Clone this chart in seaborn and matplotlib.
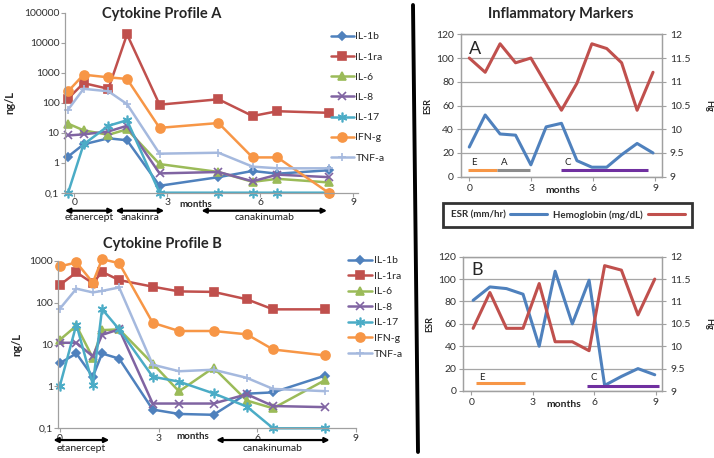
import matplotlib
matplotlib.use("Agg")
import matplotlib.pyplot as plt
import seaborn as sns
from matplotlib.lines import Line2D
from matplotlib.ticker import NullLocator

sns.set_theme(style="white")
plt.rcParams["font.family"] = ["Lato", "DejaVu Sans"]

# ---------------- data ----------------
series = ["IL-1b", "IL-1ra", "IL-6", "IL-8", "IL-17", "IFN-g", "TNF-a"]

# Cytokine profile A (x in months)
months_a = [-0.2, 0.3, 1.1, 1.7, 2.75, 4.65, 5.75, 6.55, 8.2]
il1b_a = [1.6, 4.1, 6.5, 5.6, 0.17, 0.33, 0.53, 0.43, 0.56]
il1ra_a = [137, 450, 290, 19000, 86, 130, 36, 52, 46]
il6_a = [20, 12, 8.5, 13, 0.9, 0.49, 0.23, 0.29, 0.22]
il8_a = [8.1, 8.8, 11, 17, 0.44, 0.49, 0.24, 0.40, 0.33]
il17_a = [0.1, 4.1, 17, 26, 0.1, 0.1, 0.1, 0.1, 0.1]
ifng_a = [240, 860, 700, 620, 14.5, 21, 1.5, 1.5, 0.1]
tnfa_a = [59, 290, 240, 90, 2.0, 2.15, 0.74, 0.65, 0.65]

# Cytokine profile B
months_b = [0.0, 0.5, 1.0, 1.28, 1.8, 2.82, 3.62, 4.67, 5.68, 6.48, 8.05]
il1b_b = [3.6, 6.1, 1.7, 6.1, 4.6, 0.28, 0.22, 0.21, 0.67, 0.72, 1.8]
il1ra_b = [265, 525, 290, 540, 345, 240, 185, 180, 120, 69, 69]
il6_b = [13, 28, 4.8, 22, 23, 3.5, 0.76, 2.8, 0.46, 0.30, 1.4]
il8_b = [11, 11, 5.2, 17, 23, 0.39, 0.39, 0.39, 0.65, 0.34, 0.32]
il17_b = [1.05, 30, 1.1, 70, 23, 1.7, 1.3, 0.68, 0.33, 0.1, 0.1]
ifng_b = [730, 910, 300, 1090, 870, 33, 21, 21, 17.5, 7.6, 5.5]
tnfa_b = [72, 215, 175, 190, 230, 3.3, 2.3, 2.5, 1.6, 0.87, 0.77]

# Inflammatory markers A
months_ia = [0, 0.77, 1.49, 2.24, 2.98, 3.72, 4.46, 5.21, 5.93, 6.65, 7.37, 8.12, 8.89]
esr_a = [25, 52, 36, 35, 10, 42, 45, 13.5, 8, 8, 18.5, 28, 20]
hb_a = [11.5, 11.2, 11.8, 11.4, 11.5, 10.95, 10.4, 10.97, 11.8, 11.7, 11.4, 10.4, 11.2]

# Inflammatory markers B
months_ib = [0.08, 0.9, 1.71, 2.52, 3.31, 4.09, 4.93, 5.75, 6.51, 7.33, 8.14, 8.96]
esr_b = [81, 93, 91.5, 86.5, 40, 107, 60, 99, 5, 13, 20, 14.5]
hb_b = [10.4, 11.2, 10.4, 10.4, 11.4, 10.1, 10.1, 9.9, 11.8, 11.7, 10.7, 11.5]

# Treatment periods (months)
treat_cyto_a = [("etanercept", -0.3, 1.27), ("anakinra", 1.33, 2.9), ("canakinumab", 4.1, 8.15)]
treat_cyto_b = [("etanercept", -0.2, 1.5), ("canakinumab", 4.75, 8.2)]
treat_infl_a = [("E", -0.08, 1.36), ("A", 1.36, 2.92), ("C", 4.46, 8.65)]
treat_infl_b = [("E", 0.24, 2.64), ("C", 5.66, 9.18)]

# ---------------- styles ----------------
colors = {"IL-1b": "#4F81BD", "IL-1ra": "#C0504D", "IL-6": "#9BBB59", "IL-8": "#8064A2",
          "IL-17": "#4BACC6", "IFN-g": "#F79646", "TNF-a": "#A5B9DE"}
markers = {"IL-1b": "D", "IL-1ra": "s", "IL-6": "^", "IL-8": "x",
           "IL-17": (6, 2, 0), "IFN-g": "o", "TNF-a": "+"}
msizes = {"IL-1b": 4.5, "IL-1ra": 6, "IL-6": 5.5, "IL-8": 5.5,
          "IL-17": 7, "IFN-g": 6.5, "TNF-a": 6}
treat_colors = {"E": "#F79646", "A": "#8C8C8C", "C": "#7030A0"}
spine_c = "#A0A0A0"
ESR_C = "#4F81BD"
HB_C = "#C0504D"

W, H = 714, 458
fig = plt.figure(figsize=(W / 100, H / 100), dpi=100)


def ax_px(l, t, r, b):
    return fig.add_axes([l / W, 1 - b / H, (r - l) / W, (b - t) / H])


def cyto_panel(ax, months, data, ylim, yticks, yticklabels, xlim):
    for name, vals in zip(series, data):
        c = colors[name]
        sns.lineplot(x=months, y=vals, ax=ax, color=c, marker=markers[name],
                     markersize=msizes[name], markeredgecolor=c, markerfacecolor=c,
                     markeredgewidth=1.2, linewidth=1.8, label=name, sort=False,
                     clip_on=False)
    ax.set_yscale("log")
    ax.set_ylim(*ylim)
    ax.set_xlim(*xlim)
    ax.set_yticks(yticks)
    ax.set_yticklabels(yticklabels)
    ax.yaxis.set_minor_locator(NullLocator())
    ax.set_xticks([0, 3, 6, 9])
    ax.set_xticklabels(["0", "3", "6", "9"])
    ax.tick_params(axis="both", labelsize=7.5, colors="#303030", length=3, width=0.8,
                   color=spine_c, left=True, bottom=True, pad=1)
    for s in ["top", "right"]:
        ax.spines[s].set_visible(False)
    for s in ["left", "bottom"]:
        ax.spines[s].set_color(spine_c)
        ax.spines[s].set_linewidth(0.9)
    ax.set_xlabel("")
    ax.set_ylabel("ng/L", fontsize=8, fontweight="bold", labelpad=4)
    h, l = ax.get_legend_handles_labels()
    ax.get_legend().remove()
    return h, l


def treat_arrows(ax, periods, y_arrow, y_text):
    tr = ax.get_xaxis_transform()
    for name, x0, x1 in periods:
        ax.annotate("", xy=(x0, y_arrow), xytext=(x1, y_arrow), xycoords=tr, textcoords=tr,
                    arrowprops=dict(arrowstyle="<|-|>", color="black", lw=1.6,
                                    mutation_scale=7, shrinkA=0, shrinkB=0),
                    annotation_clip=False)
        ax.text((x0 + x1) / 2, y_text, name, transform=tr, ha="center", va="center",
                fontsize=7.5, color="#202020")


# ---------------- Cytokine A ----------------
axA = ax_px(65, 12.7, 358, 192.7)
hA, lA = cyto_panel(axA, months_a, [il1b_a, il1ra_a, il6_a, il8_a, il17_a, ifng_a, tnfa_a],
                    (0.1, 100000), [0.1, 1, 10, 100, 1000, 10000, 100000],
                    ["0,1", "1", "10", "100", "1000", "10000", "100000"], (-0.3, 9.15))
axA.yaxis.set_label_coords(-0.168, 0.5)
axA.text(3.93, -0.065, "months", transform=axA.get_xaxis_transform(), ha="center",
         va="center", fontsize=7, fontweight="bold")
treat_arrows(axA, treat_cyto_a, -0.1, -0.137)
axA.text(0.33, 0.995, "Cytokine Profile A", transform=axA.transAxes, ha="center", va="center",
         fontsize=10.5, fontweight="bold")
fig.legend(hA, lA, loc="upper left", bbox_to_anchor=(331 / W, 1 - 32 / H), frameon=False,
           fontsize=7.5, labelspacing=1.05, handlelength=2.2, handletextpad=0.15,
           borderpad=0, borderaxespad=0)

# ---------------- Cytokine B ----------------
axB = ax_px(58.3, 260.7, 356, 428.3)
hB, lB = cyto_panel(axB, months_b, [il1b_b, il1ra_b, il6_b, il8_b, il17_b, ifng_b, tnfa_b],
                    (0.1, 1000), [0.1, 1, 10, 100, 1000],
                    ["0,1", "1", "10", "100", "1000"], (-0.05, 9.0))
axB.yaxis.set_label_coords(-0.122, 0.5)
axB.text(4.05, -0.05, "months", transform=axB.get_xaxis_transform(), ha="center",
         va="center", fontsize=7, fontweight="bold")
treat_arrows(axB, treat_cyto_b, -0.07, -0.12)
axB.text(0.35, 1.1, "Cytokine Profile B", transform=axB.transAxes, ha="center", va="center",
         fontsize=10.5, fontweight="bold")
fig.legend(hB, lB, loc="upper left", bbox_to_anchor=(348 / W, 1 - 256 / H), frameon=False,
           fontsize=7.5, labelspacing=0.6, handlelength=2.3, handletextpad=0.15,
           borderpad=0, borderaxespad=0)


# ---------------- Inflammatory markers ----------------
def infl_panel(ax, months, esr, hb, periods, label, treat_y, label_y):
    sns.lineplot(x=months, y=esr, ax=ax, color=ESR_C, linewidth=2.2, sort=False,
                 label="ESR (mm/hr)")
    ax.set_ylim(0, 120)
    ax.set_xlim(-0.4, 9.3)
    ax.set_yticks(range(0, 121, 20))
    ax.set_xticks([0, 3, 6, 9])
    ax.grid(axis="y", color="#A6A6A6", linewidth=0.9)
    ax.set_axisbelow(True)
    for s in ax.spines.values():
        s.set_color(spine_c)
        s.set_linewidth(0.9)
    ax.tick_params(axis="both", labelsize=7.5, colors="#303030", length=3, width=0.8,
                   color=spine_c, left=True, bottom=True, pad=2)
    ax.set_ylabel("ESR", fontsize=6.5, fontweight="bold", labelpad=3)
    ax.set_xlabel("")
    ax.text(4.5, -0.1, "months", transform=ax.get_xaxis_transform(), ha="center",
            va="center", fontsize=7.5, fontweight="bold")
    for name, x0, x1 in periods:
        ax.hlines(treat_y[name], x0, x1, color=treat_colors[name], linewidth=2.2)
        ax.text(x0 + 0.15, label_y, name, fontsize=7, ha="left", va="center",
                color="#202020")
    ax.text(0.04, 0.9, label, transform=ax.transAxes, fontsize=13, ha="left", va="center")
    ax2 = ax.twinx()
    sns.lineplot(x=months, y=hb, ax=ax2, color=HB_C, linewidth=2.2, sort=False,
                 label="Hemoglobin (mg/dL)")
    ax2.set_ylim(9, 12)
    ax2.set_yticks([9, 9.5, 10, 10.5, 11, 11.5, 12])
    ax2.set_yticklabels(["9", "9.5", "10", "10.5", "11", "11.5", "12"])
    ax2.tick_params(axis="y", labelsize=7.5, colors="#303030", length=3, width=0.8,
                    color=spine_c, right=True, pad=3)
    for s in ax2.spines.values():
        s.set_color(spine_c)
        s.set_linewidth(0.9)
    ax2.set_ylabel("Hg", fontsize=6.5, fontweight="bold", rotation=-90, labelpad=8)
    ax2.yaxis.set_label_coords(1.26, 0.5)
    h1, l1 = ax.get_legend_handles_labels()
    h2, l2 = ax2.get_legend_handles_labels()
    ax.get_legend().remove()
    ax2.get_legend().remove()
    return h1 + h2, l1 + l2


axIA = ax_px(461, 34.3, 661.5, 176.7)
hI, lI = infl_panel(axIA, months_ia, esr_a, hb_a, treat_infl_a, "A",
                    {"E": 5.6, "A": 5.6, "C": 5.6}, 12)
axIA.text(0.5, 1.14, "Inflammatory Markers", transform=axIA.transAxes, ha="center",
          va="center", fontsize=10.5, fontweight="bold")

axIB = ax_px(463.3, 256.7, 661.7, 391)
infl_panel(axIB, months_ib, esr_b, hb_b, treat_infl_b, "B",
           {"E": 6.8, "C": 4.5}, 12.5)

leg = fig.legend(hI, lI, loc="center", bbox_to_anchor=(567.7 / W, 1 - 215 / H), ncol=2,
                 markerfirst=False, frameon=True, fancybox=False, edgecolor="black",
                 prop={"size": 7, "weight": "bold"}, handlelength=3.8, columnspacing=0.6,
                 handletextpad=0.5, borderpad=0.75, borderaxespad=0)
leg.get_frame().set_linewidth(2)
for t in leg.get_texts():
    t.set_color("#303030")

# divider line
fig.add_artist(Line2D([413 / W, 418 / W], [1 - 5 / H, 1 - 452 / H], color="black", lw=2.8))

fig.savefig("out.png", dpi=100)
